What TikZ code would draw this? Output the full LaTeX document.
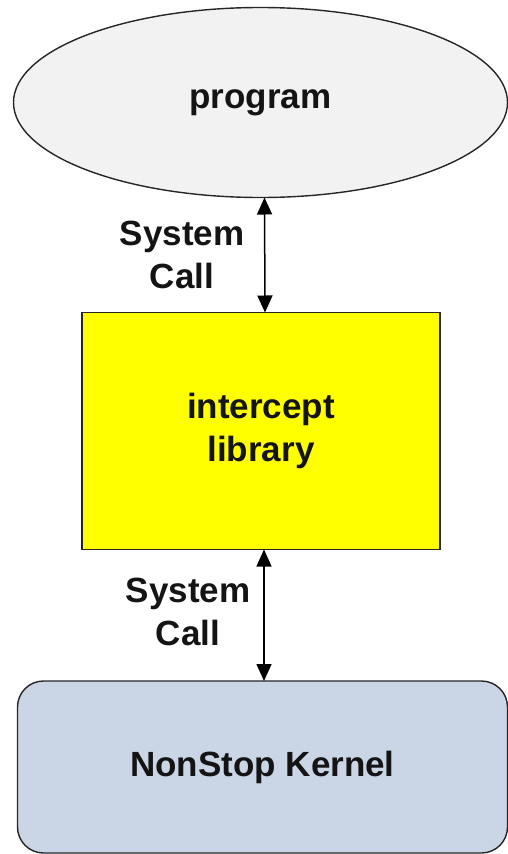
\documentclass[tikz,border=0pt]{standalone}
\usepackage{fontspec}
\setmainfont{Liberation Sans}
\usetikzlibrary{shapes.geometric,arrows.meta}
\definecolor{progfill}{HTML}{F2F2F2}
\definecolor{libfill}{HTML}{FFFF00}
\definecolor{kernfill}{HTML}{CAD5E5}
\tikzset{
  shapebase/.style={draw=black!85, line width=1.4pt, outer sep=0pt, inner sep=0pt,
    font=\fontsize{35}{43}\selectfont\bfseries, align=center, text=black!92},
  progshape/.style={shapebase, ellipse, fill=progfill, minimum width=494pt, minimum height=190pt},
  libshape/.style={shapebase, rectangle, fill=libfill, minimum width=358pt, minimum height=237pt},
  kernshape/.style={shapebase, rectangle, rounded corners=26pt, fill=kernfill, minimum width=490pt, minimum height=172pt},
  callarrow/.style={line width=1.5pt, {Triangle[length=17pt,width=15pt]}-{Triangle[length=17pt,width=15pt]}},
  calllabel/.style={font=\fontsize{35}{43}\selectfont\bfseries, align=center, text=black!92, inner sep=0pt}
}
\begin{document}
\begin{tikzpicture}[x=1pt,y=-1pt]
\useasboundingbox (0,0) rectangle (508,854);
\node[progshape] (prog) at (260.5,102.5) {program};
\node[libshape] (lib) at (261,431) {intercept\\library};
\node[kernshape] (kern) at (262.5,767) {NonStop Kernel};
\coordinate (a1top) at ([xshift=4pt]prog.south);
\coordinate (a1bot) at ([xshift=4pt]lib.north);
\coordinate (a2top) at ([xshift=3pt]lib.south);
\coordinate (a2bot) at ([xshift=1.5pt]kern.north);
\draw[callarrow] (a1top) -- (a1bot);
\draw[callarrow] (a2top) -- (a2bot);
\node[calllabel] (lab1) at (182,255) {System\\Call};
\node[calllabel] (lab2) at (188,612) {System\\Call};
\end{tikzpicture}
\end{document}
